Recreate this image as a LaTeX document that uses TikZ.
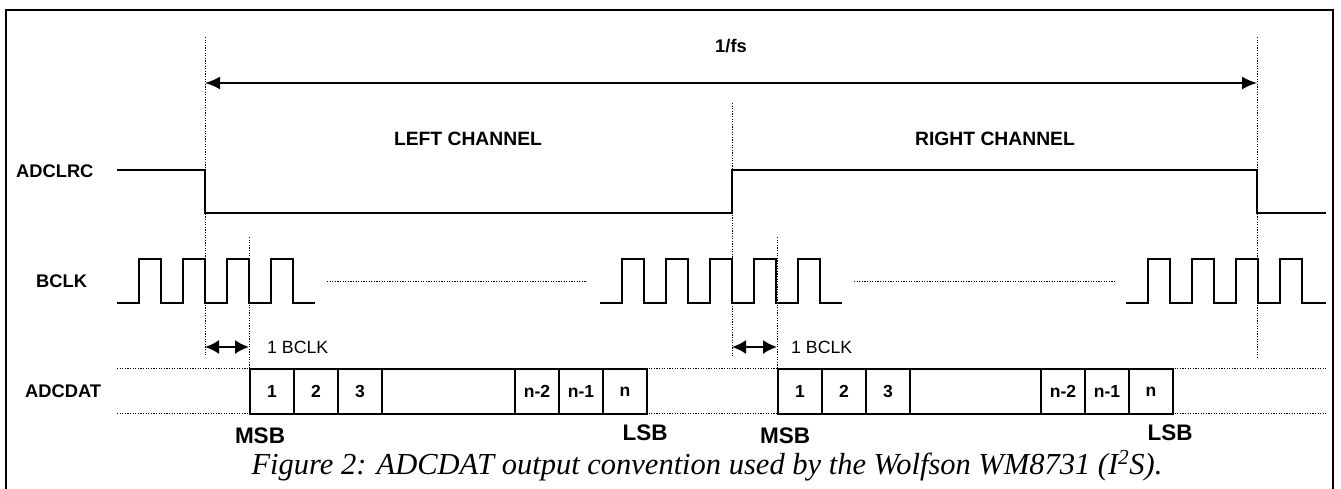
\documentclass[tikz,border=0pt]{standalone}
\usepackage{fontspec}
\setmainfont{Liberation Serif}
\setsansfont{Liberation Sans}
\usetikzlibrary{arrows.meta}
\tikzset{
  sig/.style={line width=2pt, line join=miter},
  frameline/.style={line width=1.8pt},
  guide/.style={line width=1pt, dash pattern=on 1.2pt off 1.4pt},
  lbl/.style={font=\sffamily\bfseries\fontsize{18.3}{22}\selectfont, inner sep=0pt},
  chan/.style={font=\sffamily\bfseries\fontsize{19.3}{22}\selectfont, inner sep=0pt},
  small/.style={font=\sffamily\fontsize{17.7}{20}\selectfont, inner sep=0pt},
  bits/.style={font=\sffamily\bfseries\fontsize{22.5}{26}\selectfont, inner sep=0pt},
  cellbox/.style={draw, line width=2pt, minimum height=45pt, inner sep=0pt, anchor=north west,
    font=\sffamily\bfseries\fontsize{17.5}{20}\selectfont},
  bigarrow/.style={line width=2pt, {Latex[length=15pt,width=13pt]}-{Latex[length=15pt,width=13pt]}},
  smallarrow/.style={line width=2pt, {Latex[length=14pt,width=14pt]}-{Latex[length=14pt,width=14pt]}},
  caption/.style={font=\itshape\fontsize{30.5}{34}\selectfont, inner sep=0pt}
}
\begin{document}
\begin{tikzpicture}[x=1pt,y=-1pt]
\useasboundingbox (0,0) rectangle (1341,489);
% frame
\draw[frameline] (6,489) -- (6,10) -- (1333,10) -- (1333,489);

% guide coordinates
\coordinate (g1t) at (205,37);  \coordinate (g1b) at (205,355);
\coordinate (g2t) at (249,237); \coordinate (g2b) at (249,368);
\coordinate (g3t) at (732,103); \coordinate (g3b) at (732,357);
\coordinate (g4t) at (777,237); \coordinate (g4b) at (777,368);
\coordinate (g5t) at (1257,37); \coordinate (g5b) at (1257,357);
\draw[guide] (g1t) -- (g1b);
\draw[guide] (g2t) -- (g2b);
\draw[guide] (g3t) -- (g3b);
\draw[guide] (g4t) -- (g4b);
\draw[guide] (g5t) -- (g5b);

% 1/fs
\coordinate (fsL) at (205,83); \coordinate (fsR) at (1257,83);
\draw[bigarrow] (fsL) -- (fsR);
\node[lbl] (fs) at (731,46) {1/fs};

\node[chan] (left) at (468,138.5) {LEFT CHANNEL};
\node[chan] (right) at (995,138.5) {RIGHT CHANNEL};

% signal labels
\node[lbl, anchor=west] (adclrc) at (16,171) {ADCLRC};
\node[lbl, anchor=west] (bclk) at (36,281) {BCLK};
\node[lbl, anchor=west] (adcdat) at (25,391) {ADCDAT};

% ADCLRC
\draw[sig] (117,170) -- (205,170) -- (205,213) -- (732,213) -- (732,170) -- (1257,170) -- (1257,213) -- (1326,213);

% BCLK
\draw[sig] (117,303) foreach \r in {139,183,227,271}{ -- (\r,303) -- (\r,259) -- (\r+22,259) -- (\r+22,303)} -- (315,303);
\draw[sig] (600,303) foreach \r in {622,666,710,754,798}{ -- (\r,303) -- (\r,259) -- (\r+22,259) -- (\r+22,303)} -- (842,303);
\draw[sig] (1126,303) foreach \r in {1148,1192,1236,1280}{ -- (\r,303) -- (\r,259) -- (\r+22,259) -- (\r+22,303)} -- (1326,303);
\draw[guide] (327,281) -- (587,281);
\draw[guide] (854,281) -- (1115,281);

% 1 BCLK
\draw[smallarrow] (g1b |- 0,347) -- (g2t |- 0,347);
\node[small, anchor=west] (b1) at (267,347) {1 BCLK};
\draw[smallarrow] (g3b |- 0,347) -- (g4t |- 0,347);
\node[small, anchor=west] (b2) at (791,347) {1 BCLK};

% ADCDAT dotted
\draw[guide] (117,368) -- (249,368);
\draw[guide] (117,413) -- (249,413);
\draw[guide] (646,368) -- (777,368);
\draw[guide] (646,413) -- (777,413);
\draw[guide] (1172,368) -- (1326,368);
\draw[guide] (1172,413) -- (1326,413);

% left word
\node[cellbox, minimum width=44pt] (l1) at (249,368) {1};
\node[cellbox, minimum width=44pt] (l2) at (293,368) {2};
\node[cellbox, minimum width=44pt] (l3) at (337,368) {3};
\node[cellbox, minimum width=133pt] (l4) at (381,368) {};
\node[cellbox, minimum width=44pt] (l5) at (514,368) {n-2};
\node[cellbox, minimum width=44pt] (l6) at (558,368) {n-1};
\node[cellbox, minimum width=44pt] (l7) at (602,368) {n};
% right word
\node[cellbox, minimum width=44pt] (r1) at (777,368) {1};
\node[cellbox, minimum width=44pt] (r2) at (821,368) {2};
\node[cellbox, minimum width=44pt] (r3) at (865,368) {3};
\node[cellbox, minimum width=131pt] (r4) at (909,368) {};
\node[cellbox, minimum width=44pt] (r5) at (1040,368) {n-2};
\node[cellbox, minimum width=44pt] (r6) at (1084,368) {n-1};
\node[cellbox, minimum width=44pt] (r7) at (1128,368) {n};

\node[bits] (msb1) at (260,436) {MSB};
\node[bits] (lsb1) at (645,433) {LSB};
\node[bits] (msb2) at (785,436) {MSB};
\node[bits] (lsb2) at (1170,433) {LSB};

\node[caption, anchor=base] (cap) at (707,474) {Figure 2: ADCDAT output convention used by the Wolfson WM8731 (I\textsuperscript{2}S).};
\end{tikzpicture}
\end{document}
